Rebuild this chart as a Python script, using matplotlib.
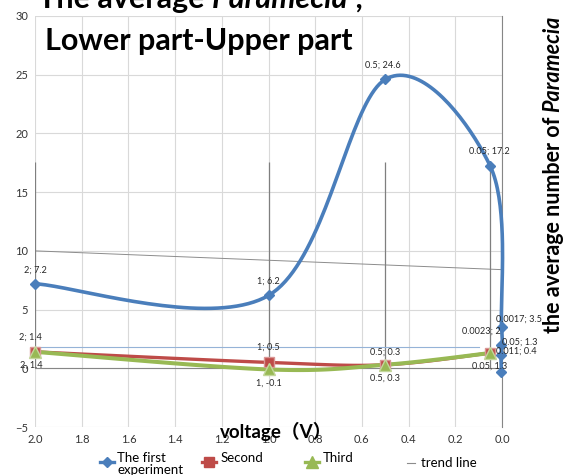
import matplotlib
matplotlib.use('Agg')
import matplotlib.pyplot as plt
from matplotlib.lines import Line2D
import numpy as np

plt.rcParams['font.family'] = ['Lato', 'DejaVu Sans']

# data
first_x = [2, 1, 0.5, 0.05, 0.0017, 0.0023, 0.004, 0.003]
first_y = [7.2, 6.2, 24.6, 17.2, 3.5, 2.0, 1.1, -0.3]
second_x = [2, 1, 0.5, 0.05]
second_y = [1.4, 0.5, 0.3, 1.3]
third_x = [2, 1, 0.5, 0.05]
third_y = [1.4, -0.1, 0.3, 1.3]
trend_x = [2, 0]
trend_y = [10.0, 8.4]
drop_x = [2, 1, 0.5, 0.05]
drop_top = 17.6
ref_x = [2, 0.1]
ref_y = 1.85

x_ticks = [2.0, 1.8, 1.6, 1.4, 1.2, 1.0, 0.8, 0.6, 0.4, 0.2, 0.0]
y_ticks = [-5, 0, 5, 10, 15, 20, 25, 30]

# data labels: text, x, y, offset px (dx, dy)
blue_labels = [("2; 7.2", 2, 7.2, 0, 14), ("1; 6.2", 1, 6.2, 0, 14),
               ("0.5; 24.6", 0.5, 24.6, -2, 14), ("0.05; 17.2", 0.05, 17.2, -1, 15),
               ("0.0017; 3.5", 0.0017, 3.5, 17, 8), ("0.0023; 2", 0.0023, 2, -20, 14),
               ("0.011; 0.4", 0.011, 0.4, 17, 12)]
red_labels = [("2; 1.4", 2, 1.4, -5, 15), ("1; 0.5", 1, 0.5, 0, 15),
              ("0.5; 0.3", 0.5, 0.3, 0, 13), ("0.05; 1.3", 0.05, 1.3, 29, 11)]
green_labels = [("2, 1.4", 2, 1.4, -4, -13), ("1, -0.1", 1, -0.1, 0, -14),
                ("0.5, 0.3", 0.5, 0.3, 0, -13), ("0.05, 1.3", 0.05, 1.3, -1, -13)]

BLUE = '#4A7EBB'
RED = '#BE4B48'
GREEN = '#98B954'
W, H = 571, 475


def fx(px):
    return px / W


def fy(py):
    return 1 - py / H


def smooth(ax, xs, ys, n=40):
    # excel-like smoothed line, done in screen space
    pts = ax.transData.transform(np.column_stack([xs, ys]))
    m = len(pts)
    out = [pts[0]]
    t = np.linspace(0, 1, n)[1:, None]
    for i in range(m - 1):
        p0 = pts[max(i - 1, 0)]
        p1 = pts[i]
        p2 = pts[i + 1]
        p3 = pts[min(i + 2, m - 1)]
        c1 = p1 + (p2 - p0) / 6
        c2 = p2 - (p3 - p1) / 6
        seg = (1 - t)**3 * p1 + 3 * (1 - t)**2 * t * c1 + 3 * (1 - t) * t**2 * c2 + t**3 * p2
        out.extend(seg)
    out = ax.transData.inverted().transform(np.array(out))
    return out[:, 0], out[:, 1]


fig = plt.figure(figsize=(W / 100, H / 100), dpi=100)
ax = fig.add_axes([fx(35), fy(427), 467 / W, 411 / H])
ax.set_xlim(2, 0)
ax.set_ylim(-5, 30)
ax.set_xticks(x_ticks)
ax.set_xticklabels(['%.1f' % v for v in x_ticks])
ax.set_yticks(y_ticks)
ax.tick_params(length=0, labelsize=8, colors='#333333', pad=5)
ax.grid(color='#D9D9D9', lw=0.8)
ax.set_axisbelow(True)
for s in ['left', 'top', 'bottom']:
    ax.spines[s].set_visible(False)
ax.spines['right'].set_color('#868686')
ax.spines['right'].set_linewidth(0.8)
ax.axhline(0, color='#868686', lw=0.8, zorder=1)

ax.plot(trend_x, trend_y, color='#8C8C8C', lw=0.7, zorder=2)
ax.vlines(drop_x, 0, drop_top, color='#7F7F7F', lw=0.9, zorder=2)
ax.plot(ref_x, [ref_y, ref_y], color='#95B3D7', lw=0.8, zorder=2)

sx, sy = smooth(ax, second_x, second_y)
ax.plot(sx, sy, color=RED, lw=2.4, zorder=3, clip_on=False)
gx, gy = smooth(ax, third_x, third_y)
ax.plot(gx, gy, color=GREEN, lw=2.9, zorder=4, clip_on=False)
bx, by = smooth(ax, first_x, first_y)
ax.plot(bx, by, color=BLUE, lw=2.6, zorder=5, clip_on=False)

ax.plot(second_x, second_y, 's', color=RED, ms=7, mec='#D99694', zorder=6, clip_on=False)
ax.plot(third_x, third_y, '^', color=GREEN, ms=8, mec='#C3D69B', zorder=7, clip_on=False)
ax.plot(first_x, first_y, 'D', color=BLUE, ms=5.5, zorder=8, clip_on=False)

for lab in blue_labels + red_labels + green_labels:
    txt, x, y, dx, dy = lab
    ax.annotate(txt, (x, y), xytext=(dx, dy), textcoords='offset pixels',
                ha='center', va='center', fontsize=6.6, color='#262626', zorder=9,
                annotation_clip=False)

r = fig.canvas.get_renderer()

# title, top line is cut by the figure edge
t1 = fig.text(fx(38), fy(8), "The average ", fontsize=22, fontweight='bold', va='baseline')
e = t1.get_window_extent(r)
t2 = fig.text(e.x1 / W, fy(8), "Paramecia", fontsize=22, fontweight='bold',
              style='italic', va='baseline')
e = t2.get_window_extent(r)
fig.text(e.x1 / W + 0.01, fy(8), ";", fontsize=22, fontweight='bold', va='baseline')
fig.text(fx(45), fy(50), "Lower part-Upper part", fontsize=22, fontweight='bold',
         va='baseline')

# right axis title in two pieces
y1 = fig.text(fx(553), fy(333), "the average number of", fontsize=15.5,
              fontweight='bold', rotation=90, ha='center', va='bottom')
e = y1.get_window_extent(r)
fig.text(fx(553), (e.y1 + 5) / H, "Paramecia", fontsize=15.5, fontweight='bold',
         style='italic', rotation=90, ha='center', va='bottom')

fig.text(fx(276), fy(431), "voltage（V）", fontsize=13.5, fontweight='bold',
         ha='center', va='center', family=['Lato', 'Noto Sans CJK SC'])

# legend
leg = [(BLUE, 'D', 5.5, 107, "The first\nexperiment", 117, 464),
       (RED, 's', 7, 209, "Second", 221, 458),
       (GREEN, '^', 8, 312, "Third", 323, 458)]
for col, mk, ms, px, txt, tx, ty in leg:
    fig.add_artist(Line2D([fx(px - 7), fx(px + 7)], [fy(462), fy(462)], color=col, lw=2.4))
    fig.add_artist(Line2D([fx(px)], [fy(462)], marker=mk, ms=ms, color=col))
    fig.text(fx(tx), fy(ty), txt, fontsize=9.5, va='center', linespacing=1.0)
fig.add_artist(Line2D([fx(407), fx(415)], [fy(463), fy(463)], color='#8C8C8C', lw=0.8))
fig.text(fx(421), fy(463), "trend line", fontsize=9.5, va='center')

fig.savefig('out.png', dpi=100)
